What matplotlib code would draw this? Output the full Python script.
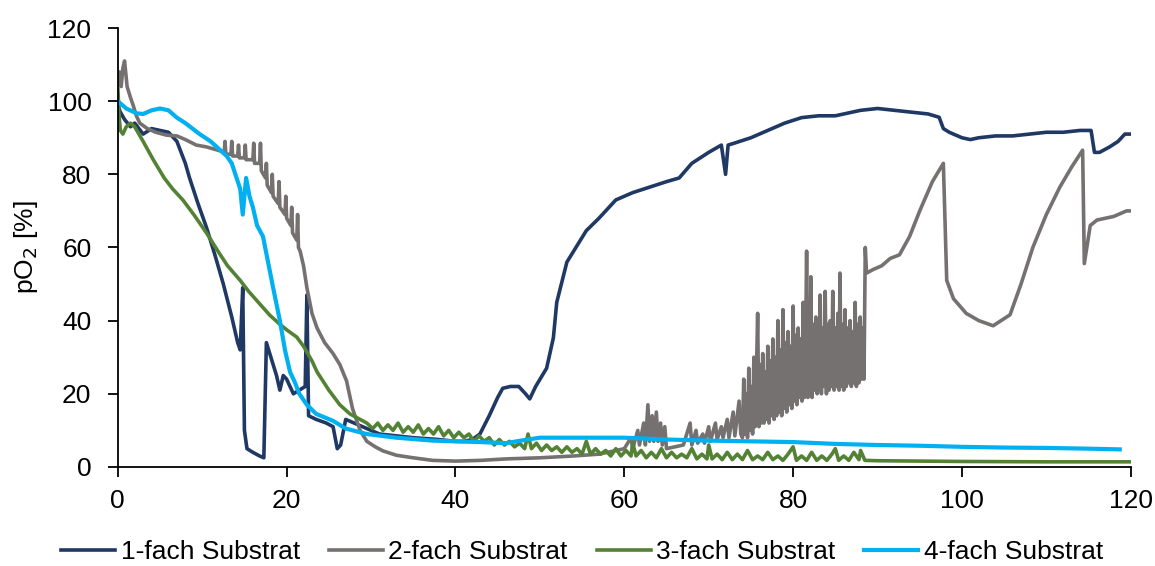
import matplotlib.pyplot as plt

plt.rcParams["font.family"] = ["Liberation Sans", "DejaVu Sans"]

# (time, pO2) pairs
s1 = [(0, 99), (0.3, 97), (0.8, 95), (1.5, 93), (2, 94), (3, 91), (4, 92.5), (5, 92),
      (6, 91.5), (7, 89), (8, 83), (8.5, 79), (9.5, 72), (10.5, 65.5), (11.5, 58),
      (12.5, 50), (13.5, 41), (14.2, 34), (14.5, 32), (14.8, 49), (15.0, 10),
      (15.3, 5), (16, 4), (16.8, 3), (17.3, 2.5), (17.6, 34), (18, 31), (18.8, 25),
      (19.2, 21), (19.6, 25), (20, 24), (20.4, 22), (20.8, 20), (21.5, 21), (22.2, 22),
      (22.4, 47), (22.6, 14), (23.5, 13), (24.7, 12), (25.5, 11), (26, 5), (26.4, 6),
      (27, 13), (28, 12), (29, 11), (30, 10), (31, 9), (33, 8.5), (35, 8), (38, 7.5),
      (40, 7), (41, 7), (42, 7.5), (42.9, 9), (44, 14), (45, 19), (45.6, 21.5),
      (46.5, 22), (47.5, 22), (48.3, 20), (48.8, 18.6), (49.5, 22), (50.8, 27),
      (51.6, 35.3), (52, 45), (53.2, 56), (55.5, 64.6), (57, 68), (59, 73), (61, 75),
      (63, 76.5), (65, 78), (66.5, 79), (68, 83), (70, 86), (71.5, 88), (72, 80),
      (72.3, 88), (73, 88.5), (75, 90), (77, 92), (79, 94), (81, 95.5), (83, 96),
      (85, 96), (86, 96.5), (88, 97.5), (90, 98), (92, 97.5), (94, 97), (96, 96.5),
      (97.3, 95.6), (97.8, 92.5), (98.5, 91.5), (100, 90), (101, 89.5), (102, 90),
      (104, 90.5), (106, 90.5), (108, 91), (110, 91.5), (112, 91.5), (114, 92),
      (115.3, 92), (115.7, 86), (116.3, 86), (117.5, 87.5), (118.5, 89), (119.3, 91),
      (120, 91)]

s2 = [(0, 105), (0.2, 108), (0.4, 104), (0.6, 109), (0.8, 111), (1.1, 104), (1.5, 101),
      (1.8, 99), (2.2, 96), (2.6, 94), (3.5, 92.5), (4.5, 91.5), (5.8, 90.7), (7, 90.5),
      (8, 89.5), (9.3, 88), (10.5, 87.5), (12, 86.5), (12.6, 86), (12.7, 89), (12.8, 85.5),
      (13.4, 85.5), (13.5, 89), (13.6, 85), (14.2, 85), (14.3, 88), (14.4, 84.5),
      (15, 84.5), (15.1, 88), (15.2, 84), (16, 84), (16.1, 88.5), (16.2, 83), (16.8, 83),
      (16.9, 88.5), (17, 81), (17.5, 79), (17.6, 83), (17.7, 77), (18.2, 75), (18.3, 80),
      (18.4, 74), (19, 72), (19.1, 78), (19.2, 71), (19.8, 69), (19.9, 74), (20, 68),
      (20.5, 66), (20.6, 71), (20.7, 64), (21.2, 62), (21.3, 69), (21.4, 60), (21.6, 59),
      (22, 55), (22.4, 49), (23, 42), (23.6, 38), (24.5, 34), (25.5, 31), (26.3, 28),
      (27.1, 23.5), (27.8, 16), (28.7, 10), (29.5, 7), (30.5, 5.5), (31.4, 4.4),
      (33, 3.2), (35, 2.5), (37.3, 1.8), (40, 1.6), (43, 1.8), (46, 2.2), (50, 2.5),
      (54, 3), (57, 3.5), (59, 4.5), (60, 5), (60.8, 8), (61, 5), (61.6, 10), (61.8, 6),
      (62.3, 12), (62.5, 6), (62.8, 17), (63, 7), (63.3, 14), (63.5, 7), (63.8, 15),
      (64, 7), (64.3, 12), (64.5, 6), (64.8, 11), (65, 5), (66, 5.5), (67, 6),
      (67.8, 12), (68, 6), (68.5, 10), (68.7, 6.5), (69.3, 9), (69.5, 6.5), (70, 11),
      (70.2, 7), (70.8, 12), (71, 7.5), (71.5, 11), (71.7, 8), (72.2, 13), (72.4, 8),
      (72.9, 15), (73.1, 8.5), (73.6, 18), (73.8, 9),
      (74.0, 8), (74.15, 24), (74.3, 9), (74.45, 20), (74.6, 8), (74.75, 27), (74.9, 10),
      (75.05, 22), (75.2, 9), (75.35, 30), (75.5, 11), (75.65, 25), (75.8, 42),
      (75.95, 11), (76.1, 28), (76.25, 12), (76.4, 31), (76.55, 12), (76.7, 26),
      (76.85, 13), (77.0, 33), (77.15, 12), (77.3, 29), (77.45, 14), (77.6, 35),
      (77.75, 13), (77.9, 30), (78.05, 14), (78.2, 40), (78.35, 15), (78.5, 32),
      (78.65, 14), (78.8, 43), (78.95, 16), (79.1, 34), (79.25, 15), (79.4, 37),
      (79.55, 17), (79.7, 33), (79.85, 16), (80.0, 44), (80.15, 18), (80.3, 36),
      (80.45, 17), (80.6, 38), (80.75, 19), (80.9, 35), (81.05, 18), (81.2, 45),
      (81.35, 19), (81.5, 37), (81.6, 59), (81.75, 19), (81.9, 38), (82.0, 20),
      (82.1, 52), (82.25, 19), (82.4, 39), (82.55, 21), (82.7, 41), (82.85, 20),
      (83.0, 37), (83.1, 21), (83.2, 47), (83.35, 20), (83.5, 38), (83.65, 22),
      (83.8, 48), (83.95, 20), (84.1, 39), (84.25, 21), (84.4, 40), (84.55, 22),
      (84.7, 48), (84.85, 21), (85.0, 38), (85.15, 22), (85.3, 42), (85.45, 21),
      (85.55, 53), (85.7, 22), (85.85, 39), (86.0, 21), (86.15, 43), (86.3, 22),
      (86.45, 38), (86.6, 23), (86.75, 40), (86.9, 22), (87.05, 37), (87.2, 23),
      (87.35, 45), (87.5, 22), (87.65, 39), (87.8, 23), (87.95, 41), (88.1, 24),
      (88.25, 38), (88.4, 24), (88.55, 60), (88.7, 53),
      (89.5, 54), (90.5, 55), (91.5, 57), (92.6, 58), (93.8, 63),
      (95, 70), (96.5, 78), (97.8, 83), (98.2, 51), (99, 46), (100.5, 42), (102, 40),
      (103.7, 38.6), (105.7, 41.6), (107, 50), (108.4, 60), (110, 69), (111.6, 76.5),
      (113, 82), (114.3, 86.6), (114.5, 55.6), (115.2, 66), (116, 67.5), (118, 68.5),
      (119.5, 70), (120, 70)]

s3 = [(0, 104), (0.15, 96), (0.3, 92), (0.6, 91), (1, 93), (1.5, 94), (2, 93), (3, 89),
      (4.2, 84), (5.5, 79), (6.5, 76), (7.7, 73), (9, 69), (10.5, 64), (12, 58.5),
      (13, 55), (14.5, 51), (15.5, 48), (16.8, 44.6), (18, 41.5), (19.2, 39), (20, 37.5),
      (21.2, 35.5), (22, 33), (23, 29), (23.6, 26), (25, 21), (26.3, 17), (27.5, 14.5),
      (29.5, 12), (30.2, 10.5), (30.8, 12), (31.4, 10), (32, 11.5), (32.6, 10),
      (33.2, 12), (33.8, 9.5), (34.4, 11), (35, 9.5), (35.6, 11.5), (36.2, 9),
      (36.8, 10.5), (37.4, 9), (38, 11), (38.6, 8.5), (39.2, 10), (39.8, 8), (40.4, 9.5),
      (41, 8), (41.6, 9), (42.2, 7), (42.8, 8.5), (43.4, 7), (44, 8), (44.6, 6),
      (45.2, 7.5), (45.8, 6), (46.4, 7), (47, 5.5), (47.6, 6.5), (48.2, 5), (48.6, 9),
      (49, 5), (49.6, 6.5), (50.2, 4.5), (50.8, 6), (51.4, 4.5), (52, 5.5), (52.6, 4),
      (53.2, 5.5), (53.8, 4), (54.4, 5), (55, 3.5), (55.5, 7), (56, 3.5), (56.6, 5),
      (57.2, 3.5), (57.8, 4.5), (58.4, 3), (59, 5), (59.6, 3), (60.2, 4.5), (60.8, 3),
      (61, 6.5), (61.4, 3), (62, 4.5), (62.6, 2.5), (63.2, 4), (63.8, 2.5), (64.4, 5),
      (65, 2.5), (65.6, 4), (66.2, 2.5), (66.8, 3.5), (67.4, 2.5), (68, 5), (68.6, 2.2),
      (69.2, 3.5), (69.8, 2.2), (70, 6), (70.4, 2.2), (71, 3.5), (71.6, 2), (72.2, 4),
      (72.8, 2), (73.4, 3.5), (74, 2), (74.6, 4.5), (75.2, 2), (75.8, 3), (76.4, 2),
      (77, 4), (77.6, 2), (78.2, 3), (78.8, 1.8), (79.4, 3.5), (80, 5.5), (80.4, 1.8),
      (81, 3), (81.6, 1.8), (82.2, 4), (82.8, 1.8), (83.4, 3), (84, 1.8), (84.6, 3.5),
      (85, 5), (85.4, 1.8), (86, 3), (86.6, 1.8), (87.2, 4), (87.8, 2), (88, 4.5),
      (88.5, 1.8), (90, 1.7), (95, 1.6), (100, 1.5), (110, 1.4), (120, 1.4)]

s4 = [(0, 100), (0.5, 99), (1, 98), (2.2, 96.7), (3, 96.5), (4, 97.5), (5, 98), (6, 97.5),
      (7, 95.5), (8, 94), (9.7, 91), (11, 89), (12.9, 85), (13.5, 83), (14, 79.5),
      (14.5, 76), (14.8, 69), (15.2, 79), (15.6, 74), (16, 71), (16.5, 66), (17.2, 63),
      (17.8, 56), (18.4, 49), (19.2, 40), (19.8, 32), (20.4, 26), (21, 23), (21.5, 20),
      (22.4, 17), (23.5, 14.5), (25.5, 12.6), (27, 10.5), (29.5, 9), (33, 8),
      (37.3, 7.2), (40, 7), (43, 6.8), (46, 6.5), (48, 7.3), (50, 8), (55, 8), (60, 8),
      (65, 7.5), (70, 7.2), (75, 7), (80, 6.8), (85, 6.3), (90, 6), (95, 5.8),
      (100, 5.5), (105, 5.3), (110, 5.2), (115, 5), (118.7, 4.8)]

labels = ["1-fach Substrat", "2-fach Substrat", "3-fach Substrat", "4-fach Substrat"]
colors = ["#203864", "#767171", "#548235", "#00B0F0"]
widths = [2.6, 2.6, 2.6, 3.0]

fig = plt.figure(figsize=(11.55, 5.66), dpi=100)
ax = fig.add_axes([0.102, 0.175, 0.877, 0.7755])

for series, label, color, lw in zip([s1, s2, s3, s4], labels, colors, widths):
    xs = [p[0] for p in series]
    ys = [p[1] for p in series]
    ax.plot(xs, ys, color=color, lw=lw, label=label, solid_joinstyle="round")

ax.set_xlim(0, 120)
ax.set_ylim(0, 120)
ax.set_xticks(range(0, 121, 20))
ax.set_yticks(range(0, 121, 20))
ax.tick_params(labelsize=19, direction="out", length=7, width=1.3, colors="black")
ax.tick_params(axis="x", pad=9)
ax.tick_params(axis="y", pad=12)
ax.set_ylabel("pO$_2$ [%]", fontsize=19)
ax.yaxis.set_label_coords(-0.077, 0.5)
for side in ["top", "right"]:
    ax.spines[side].set_visible(False)
for side in ["left", "bottom"]:
    ax.spines[side].set_linewidth(1.3)

fig.legend(loc="center", bbox_to_anchor=(0.504, 0.024), ncol=4, frameon=False,
           fontsize=19, handlelength=2.05, columnspacing=1.1, handletextpad=0.2)

fig.savefig("out.png", dpi=100)
